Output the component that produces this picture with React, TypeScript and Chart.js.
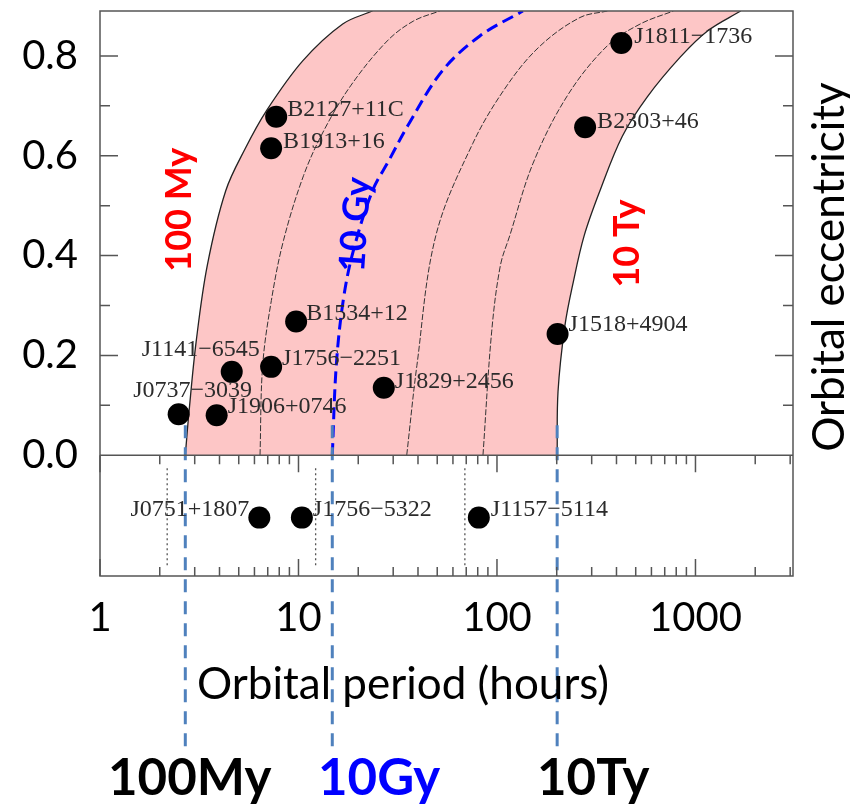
import React, { useEffect, useRef } from 'react';
import { Chart, registerables } from 'chart.js';

Chart.register(...registerables);

// ---------- axes ----------
const periodMin = 1;
const periodMax = 3100;
const eccMin = -0.242;
const eccMax = 0.89;
const xTickValues = [1, 10, 100, 1000];
const xMinorMultipliers = [2, 3, 4, 5, 6, 7, 8, 9];
const yTickValues = [0, 0.1, 0.2, 0.3, 0.4, 0.5, 0.6, 0.7, 0.8];
const yLabelledTicks = [0, 0.2, 0.4, 0.6, 0.8];

// ---------- pulsars with measured eccentricity (upper panel) ----------
const pulsarNames = ['J1811−1736', 'B2303+46', 'B2127+11C', 'B1913+16', 'B1534+12', 'J1141−6545', 'J1756−2251', 'J0737−3039', 'J1906+0746', 'J1829+2456', 'J1518+4904'];
const pulsarPeriods = [423, 278, 7.72, 7.28, 9.73, 4.61, 7.28, 2.49, 3.87, 26.9, 202];
const pulsarEcc = [0.826, 0.657, 0.678, 0.615, 0.268, 0.167, 0.177, 0.082, 0.08, 0.135, 0.243];

// ---------- lower panel ----------
const lowerNames = ['J0751+1807', 'J1756−5322', 'J1157−5114'];
const lowerPeriods = [6.35, 10.4, 81];
const lowerRowEcc = -0.125;
const lowerMarkPeriods = [2.18, 12.2, 68.9];
const lowerMarkTop = -0.026;
const lowerMarkBottom = -0.221;

// ---------- merger-time contours (period in hours, eccentricity) ----------
const c100MyP = [2.69, 2.81, 3.05, 3.47, 4.3, 5.4, 6.89, 10.5, 16.7, 23.6];
const c100MyE = [0, 0.088, 0.227, 0.38, 0.53, 0.615, 0.69, 0.79, 0.864, 0.89];
const c1GyP = [6.4, 6.6, 7.3, 8.4, 10.6, 13.4, 18.3, 28, 38, 51.5];
const c1GyE = [0, 0.18, 0.31, 0.43, 0.56, 0.65, 0.74, 0.83, 0.87, 0.89];
const c10GyP = [14.8, 15.5, 16.8, 18.9, 23.6, 28.5, 35.5, 53, 82, 135];
const c10GyE = [0, 0.18, 0.31, 0.41, 0.53, 0.59, 0.66, 0.77, 0.84, 0.89];
const c100GyP = [35.1, 39.5, 49.2, 75.6, 112, 165, 262, 360];
const c100GyE = [0, 0.18, 0.44, 0.625, 0.74, 0.82, 0.877, 0.89];
const c1TyP = [85, 94, 104, 116, 152, 226, 359, 527, 774];
const c1TyE = [0, 0.247, 0.38, 0.44, 0.585, 0.72, 0.82, 0.864, 0.89];
const c10TyP = [201, 203, 220, 242, 275, 331, 428, 572, 840, 1150, 1690];
const c10TyE = [0, 0.127, 0.26, 0.346, 0.44, 0.531, 0.639, 0.718, 0.798, 0.85, 0.89];

// ---------- age markers (100 My, 10 Gy, 10 Ty at e = 0) ----------
const ageMarkPeriods = [2.69, 14.8, 201];
const ageMarkTop = 0.06;
const ageMarkBottom = -0.585;

// ---------- text annotations ----------
const curveTags = [
  { text: '100 My', color: '#ff0000', P: 2.51, e: 0.492, angle: -90 },
  { text: '10 Gy', color: '#0000ff', P: 19.4, e: 0.462, angle: -86 },
  { text: '10 Ty', color: '#ff0000', P: 454, e: 0.424, angle: -90 },
];
const bottomTags = [
  { text: '100My', color: '#000000' },
  { text: '10Gy', color: '#0000ff' },
  { text: '10Ty', color: '#000000' },
];

// label placement (dx, dy, align) relative to the dot
const labelPlacement: Record<string, [number, number, CanvasTextAlign]> = {
  'J1811−1736': [13, -6, 'left'],
  'B2303+46': [12, -6, 'left'],
  'B2127+11C': [11, -7, 'left'],
  'B1913+16': [12, -7, 'left'],
  'B1534+12': [10, -8, 'left'],
  'J1141−6545': [-31, -22, 'center'],
  'J1756−2251': [11, -8, 'left'],
  'J0737−3039': [14, -24, 'center'],
  'J1906+0746': [11, -9, 'left'],
  'J1829+2456': [11, -6, 'left'],
  'J1518+4904': [11, -9, 'left'],
  'J0751+1807': [-10, -8, 'right'],
  'J1756−5322': [11, -8, 'left'],
  'J1157−5114': [12, -8, 'left'],
};
const bottomTagLeft = [108, 318, 537];

const pts = (P: number[], E: number[]) => P.map((p, i) => ({ x: p, y: E[i] }));

const overlayPlugin = {
  id: 'overlay',
  afterDatasetsDraw(chart: any) {
    const ctx: CanvasRenderingContext2D = chart.ctx;
    const xs = chart.scales.x;
    const ys = chart.scales.y;
    const { left, right, top, bottom } = chart.chartArea;
    const y0 = ys.getPixelForValue(0);
    ctx.save();
    ctx.strokeStyle = '#555';
    ctx.lineWidth = 1.5;
    ctx.strokeRect(left, top, right - left, bottom - top);
    ctx.beginPath();
    ctx.moveTo(left, y0);
    ctx.lineTo(right, y0);
    yTickValues.forEach((v) => {
      const py = ys.getPixelForValue(v);
      const len = yLabelledTicks.includes(v) ? 18 : 10;
      ctx.moveTo(left, py);
      ctx.lineTo(left + len, py);
      ctx.moveTo(right, py);
      ctx.lineTo(right - len, py);
    });
    xTickValues.forEach((d) => {
      [1, ...xMinorMultipliers].forEach((m) => {
        const v = d * m;
        if (v > periodMax) return;
        const px = xs.getPixelForValue(v);
        const len = m === 1 ? 17 : 9;
        ctx.moveTo(px, y0);
        ctx.lineTo(px, y0 + len);
        ctx.moveTo(px, bottom);
        ctx.lineTo(px, bottom - len);
      });
    });
    ctx.stroke();

    ctx.font = '24px "Liberation Serif"';
    ctx.fillStyle = '#2b2b2b';
    ctx.textBaseline = 'middle';
    [2, 3].forEach((di) => {
      const meta = chart.getDatasetMeta(di);
      const names = di === 2 ? pulsarNames : lowerNames;
      meta.data.forEach((el: any, i: number) => {
        const name = names[i];
        const [dx, dy, align] = labelPlacement[name];
        ctx.textAlign = align;
        ctx.fillText(name, el.x + dx, el.y + dy);
      });
    });

    ctx.font = 'bold 36px Lato';
    ctx.textAlign = 'center';
    ctx.textBaseline = 'middle';
    curveTags.forEach((t) => {
      ctx.save();
      ctx.translate(xs.getPixelForValue(t.P), ys.getPixelForValue(t.e));
      ctx.rotate((t.angle * Math.PI) / 180);
      ctx.fillStyle = t.color;
      ctx.fillText(t.text, 0, 0);
      ctx.restore();
    });

    ctx.fillStyle = '#000';
    ctx.font = '44px Lato';
    ctx.textAlign = 'left';
    ctx.textBaseline = 'alphabetic';
    ctx.fillText('Orbital period (hours)', 197, 699);
    ctx.save();
    ctx.translate(844, 267);
    ctx.rotate(-Math.PI / 2);
    ctx.textAlign = 'center';
    ctx.fillText('Orbital eccentricity', 0, 0);
    ctx.restore();

    ctx.font = 'bold 51px Lato';
    ctx.textAlign = 'left';
    bottomTags.forEach((t, i) => {
      ctx.fillStyle = t.color;
      ctx.fillText(t.text, bottomTagLeft[i], 795);
    });
    ctx.restore();
  },
};

export default function App() {
  const ref = useRef<HTMLCanvasElement | null>(null);
  useEffect(() => {
    if (!ref.current) return;
    const curveBase = {
      type: 'line' as const,
      indexAxis: 'y' as const,
      pointRadius: 0,
      tension: 0.35,
      fill: false,
      order: 3,
    };
    const datasets: any[] = [
      { ...curveBase, data: pts(c100MyP, c100MyE), borderColor: '#222', borderWidth: 1.3, fill: '+1', backgroundColor: '#fdc6c6' },
      { ...curveBase, data: pts(c10TyP, c10TyE), borderColor: '#222', borderWidth: 1.3 },
      {
        type: 'scatter', data: pts(pulsarPeriods, pulsarEcc), pointRadius: 11, pointBackgroundColor: '#000',
        pointBorderWidth: 0, showLine: false, order: 0,
      },
      {
        type: 'scatter', data: lowerPeriods.map((p) => ({ x: p, y: lowerRowEcc })), pointRadius: 11,
        pointBackgroundColor: '#000', pointBorderWidth: 0, showLine: false, order: 0,
      },
      { ...curveBase, data: pts(c1GyP, c1GyE), borderColor: '#333', borderWidth: 1, borderDash: [6, 2] },
      { ...curveBase, data: pts(c100GyP, c100GyE), borderColor: '#333', borderWidth: 1, borderDash: [6, 2] },
      { ...curveBase, data: pts(c1TyP, c1TyE), borderColor: '#333', borderWidth: 1, borderDash: [6, 2] },
      { ...curveBase, data: pts(c10GyP, c10GyE), borderColor: '#0000ff', borderWidth: 3, borderDash: [12, 6], order: 2 },
    ];
    lowerMarkPeriods.forEach((p) => {
      datasets.push({
        type: 'line', data: [{ x: p, y: lowerMarkTop }, { x: p, y: lowerMarkBottom }], borderColor: '#555',
        borderWidth: 1.3, borderDash: [2, 3], pointRadius: 0, fill: false, order: 3,
      });
    });
    ageMarkPeriods.forEach((p) => {
      datasets.push({
        type: 'line', data: [{ x: p, y: ageMarkTop }, { x: p, y: ageMarkBottom }], borderColor: '#4f81bd',
        borderWidth: 3, borderDash: [13, 9], pointRadius: 0, fill: false, clip: false, order: 1,
      });
    });

    const zeroPad = (s: any) => {
      s.paddingTop = 0;
      s.paddingBottom = 0;
      s.paddingLeft = 0;
      s.paddingRight = 0;
    };

    const chart = new Chart(ref.current, {
      type: 'line',
      data: { datasets },
      plugins: [overlayPlugin],
      options: {
        responsive: false,
        animation: false,
        events: [],
        layout: { padding: { top: 7, right: 57, left: 0, bottom: 0 } },
        plugins: {
          legend: { display: false },
          tooltip: { enabled: false },
          filler: { drawTime: 'beforeDatasetsDraw' },
        },
        scales: {
          x: {
            type: 'logarithmic',
            position: 'bottom',
            min: periodMin,
            max: periodMax,
            bounds: 'data',
            grid: { display: false, drawTicks: false },
            border: { display: false },
            ticks: {
              autoSkip: false,
              maxRotation: 0,
              padding: 18,
              color: '#000',
              font: { family: 'Lato', size: 40 },
              callback: (v: any) => String(v),
            },
            afterBuildTicks: (s: any) => {
              s.ticks = xTickValues.map((v) => ({ value: v }));
            },
            afterFit: (s: any) => {
              s.height = 231;
              zeroPad(s);
            },
          },
          y: {
            type: 'linear',
            position: 'left',
            min: eccMin,
            max: eccMax,
            bounds: 'data',
            grid: { display: false, drawTicks: false },
            border: { display: false },
            ticks: {
              autoSkip: false,
              padding: 22,
              color: '#000',
              font: { family: 'Lato', size: 40 },
              callback: (v: any) => (yLabelledTicks.includes(v) ? Number(v).toFixed(1) : ''),
            },
            afterBuildTicks: (s: any) => {
              s.ticks = yTickValues.map((v) => ({ value: v }));
            },
            afterFit: (s: any) => {
              s.width = 100;
              zeroPad(s);
            },
          },
        },
      } as any,
    });
    return () => chart.destroy();
  }, []);

  return (
    <div style={{ position: 'absolute', left: 0, top: 0, width: 850, height: 807, background: '#fff' }}>
      <canvas ref={ref} width={850} height={807} style={{ display: 'block' }} />
    </div>
  );
}
